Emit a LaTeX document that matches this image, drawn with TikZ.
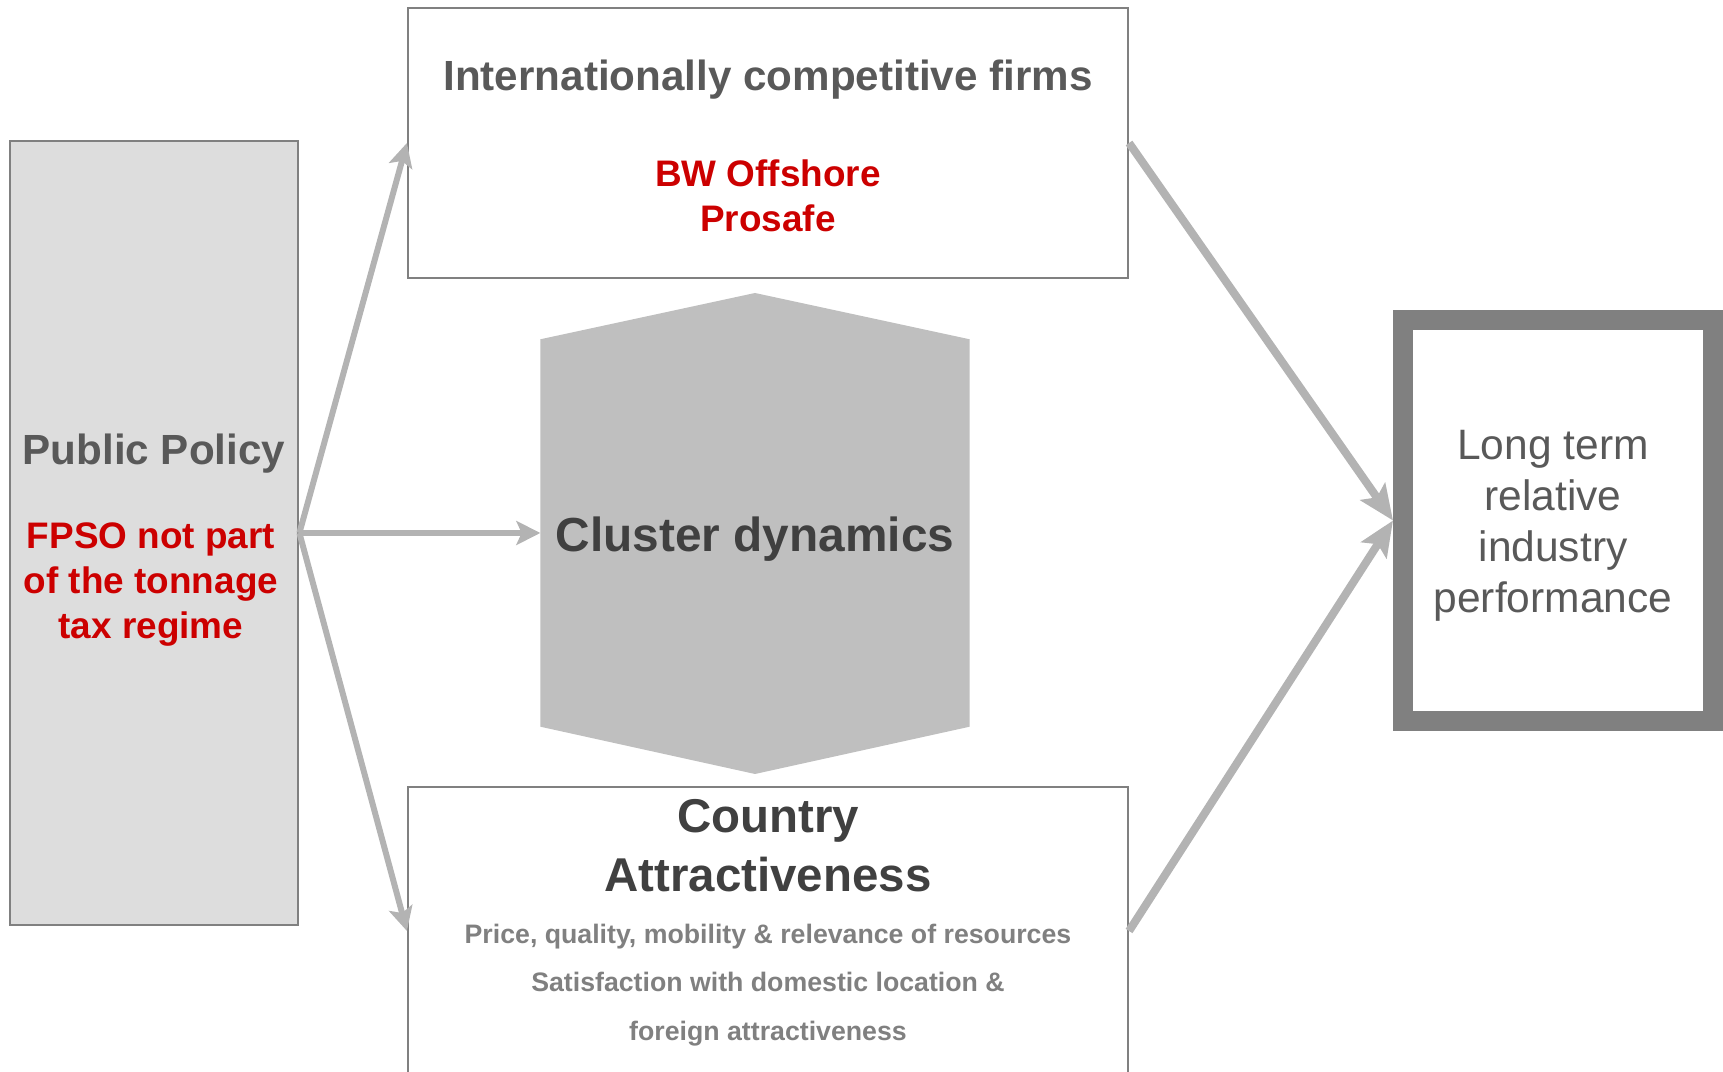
\documentclass[tikz,border=0pt]{standalone}
\usepackage{fontspec}
\setmainfont{Liberation Sans}
\usetikzlibrary{arrows.meta}
\usetikzlibrary{positioning}
\definecolor{Frame}{HTML}{808080}
\definecolor{PolicyFill}{HTML}{DDDDDD}
\definecolor{ClusterFill}{HTML}{BFBFBF}
\definecolor{ArrowGray}{HTML}{B3B3B3}
\definecolor{TextGray}{HTML}{595959}
\definecolor{DarkGray}{HTML}{404040}
\definecolor{LightText}{HTML}{808080}
\definecolor{Signal}{HTML}{CC0000}

\begin{document}
\begin{tikzpicture}[
  every node/.style={align=center, inner sep=0pt},
  panel/.style={draw=Frame, line width=0.6pt, minimum width=7.2cm},
  heading/.style={font=\bfseries\fontsize{12}{14}\selectfont, text=TextGray},
  bigheading/.style={font=\bfseries\fontsize{13.6}{16.8}\selectfont, text=DarkGray},
  redtext/.style={font=\bfseries\fontsize{10.5}{12.8}\selectfont, text=Signal},
  ]
\useasboundingbox (0,0) rectangle (17.23,-10.72);

\node [draw=Frame, line width=0.8pt, fill=PolicyFill, minimum width=2.88cm, minimum height=7.84cm] (policy) at (1.54,-5.33) {};
\node [panel, minimum height=2.7cm] (firms) at (7.68,-1.43) {};
\node [panel, minimum height=2.88cm] (country) at (7.68,-9.31) {};
\node [minimum width=4.28cm, minimum height=3.86cm] (cluster) at (7.55,-5.33) {};
\node [draw=Frame, line width=5.7pt, minimum width=3.1cm, minimum height=4.01cm] (outcome) at (15.58,-5.205) {};

% hexagon round the cluster
\coordinate (clustertop) at (7.55,-2.93);
\coordinate (clusterbottom) at (7.55,-7.74);
\fill [ClusterFill] (cluster.north west) -- (clustertop) -- (cluster.north east)
  -- (cluster.south east) -- (clusterbottom) -- (cluster.south west) -- cycle;

\node [heading] (policytitle) at (1.54,-4.535) {Public Policy};
\node [redtext] (policynote) at (1.51,-5.845) {FPSO not part\\of the tonnage\\tax regime};
\node [heading] (firmstitle) at (7.68,-0.795) {Internationally competitive firms};
\node [redtext] (firmsnote) at (7.68,-1.96) {BW Offshore\\Prosafe};
\node [bigheading] (clustertitle) at (7.55,-5.395) {Cluster dynamics};
\node [bigheading, font=\bfseries\fontsize{13.5}{16.8}\selectfont] (countrytitle) at (7.68,-8.46) {Country\\Attractiveness};
\node [font=\bfseries\fontsize{7.6}{13.8}\selectfont, text=LightText] (countrynote) at (7.68,-9.85)
  {Price, quality, mobility \& relevance of resources\\Satisfaction with domestic location \&\\foreign attractiveness};
\node [font=\fontsize{12.1}{14.5}\selectfont, text=TextGray] (outcometext) at (15.53,-5.255) {Long term\\relative\\industry\\performance};

\path [-{Stealth[length=6.8pt, width=6.8pt, inset=1.5pt]}, color=ArrowGray, line width=1.7pt]
(policy.east) edge (firms.west)
(policy.east) edge (cluster.west)
(policy.east) edge (country.west);

\path [-{Stealth[length=10pt, width=8.5pt, inset=2pt]}, color=ArrowGray, line width=2.3pt]
(firms.east) edge (outcome.west)
(country.east) edge (outcome.west);
\end{tikzpicture}
\end{document}
